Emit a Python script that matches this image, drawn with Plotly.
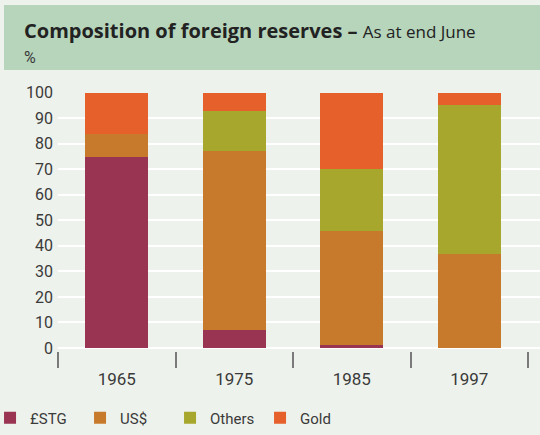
import plotly.graph_objects as go

# Composition of foreign reserves, % share at end June
years = ["1965", "1975", "1985", "1997"]
sterling = [75, 7, 1, 0]
us_dollar = [9, 70, 45, 37]
others = [0, 16, 24, 58]
gold = [16, 7, 30, 5]

series = [
    ("£STG", sterling, "#993452"),
    ("US$", us_dollar, "#c87a2c"),
    ("Others", others, "#a6a72c"),
    ("Gold", gold, "#e6602c"),
]

BG = "#eef2ec"
HEADER = "#b6d5bb"
FONT = "Roboto, 'Liberation Sans', Arial, sans-serif"
TITLE_FONT = "'Open Sans', Roboto, Arial, sans-serif"

fig = go.Figure()
for name, vals, col in series:
    fig.add_trace(go.Bar(
        x=years, y=vals, name=name,
        marker=dict(color=col, line=dict(width=0)),
    ))

fig.update_layout(
    width=540, height=435,
    margin=dict(l=58, r=0, t=92, b=84, autoexpand=False),
    barmode="stack",
    bargap=0.464,
    paper_bgcolor=BG,
    plot_bgcolor=BG,
    font=dict(family=FONT, color="#3a3a3a", size=15),
    showlegend=True,
    legend=dict(
        orientation="h", x=-0.141, xanchor="left", y=-0.259, yanchor="middle",
        font=dict(size=15, color="#3a3a3a"), bgcolor="rgba(0,0,0,0)",
        traceorder="normal", itemwidth=30,
        entrywidth=45, entrywidthmode="pixels",
    ),
    xaxis=dict(
        type="category",
        range=[-0.5, 3.602],
        automargin=False,
        tickson="boundaries",
        ticks="outside", ticklen=16, tickwidth=1.5, tickcolor="#7a7a7a",
        ticklabelstandoff=16,
        showgrid=False, showline=False, zeroline=False,
        tickfont=dict(size=17, color="#3a3a3a"),
    ),
    yaxis=dict(
        range=[-1.17, 100.27],
        automargin=False,
        tickvals=list(range(0, 101, 10)),
        showgrid=True, gridcolor="#ffffff", gridwidth=1.5,
        zeroline=True, zerolinecolor="#ffffff", zerolinewidth=1.5,
        showline=False, ticks="",
        ticklabelstandoff=4,
        tickfont=dict(size=16, color="#3a3a3a"),
    ),
    shapes=[
        dict(type="rect", xref="paper", yref="paper",
             x0=-0.112, x1=1.0, y0=1.085, y1=1.336,
             fillcolor=HEADER, line=dict(width=0), layer="below"),
    ],
    annotations=[
        dict(xref="paper", yref="paper", x=-0.075, y=1.237,
             xanchor="left", yanchor="middle", showarrow=False,
             text="<b>Composition of foreign reserves –</b> "
                  "<span style='font-size:17px'>As at end June</span>",
             font=dict(size=20, color="#222222", family=TITLE_FONT)),
        dict(xref="paper", yref="paper", x=-0.075, y=1.135,
             xanchor="left", yanchor="middle", showarrow=False,
             text="%", font=dict(size=16, color="#3a3a3a", family=FONT)),
    ],
)

fig.write_html("out.html")
